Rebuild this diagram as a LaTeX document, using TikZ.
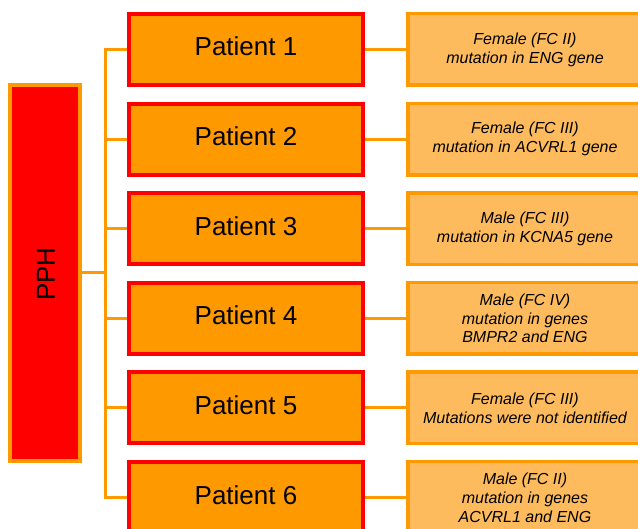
\documentclass[tikz,border=0pt]{standalone}
\usepackage{fontspec}
\setmainfont{Liberation Sans}
\definecolor{orng}{HTML}{FF9900}
\definecolor{lorng}{HTML}{FDBB5E}
\definecolor{rd}{HTML}{FF0000}
\begin{document}
\begin{tikzpicture}[x=1pt,y=-1pt,
  patbox/.style={draw=rd,fill=orng,line width=4pt,minimum width=234pt,minimum height=71pt,inner sep=0pt,text height=19pt,text depth=6pt,font=\fontsize{26}{30}\selectfont},
  infobox/.style={draw=orng,fill=lorng,line width=3.5pt,minimum width=234.5pt,minimum height=71.5pt,inner sep=0pt,align=center,font=\fontsize{16}{18.9}\selectfont\itshape},
  rootbox/.style={draw=orng,fill=rd,line width=4pt,minimum width=70pt,minimum height=376pt,inner sep=0pt},
  conn/.style={draw=orng,line width=3pt}]
\useasboundingbox (0,0) rectangle (638,529);
\node[rootbox] (pph) at (45,273) {};
\node[rotate=90,font=\fontsize{26}{30}\selectfont] (pphlabel) at (46,274) {PPH};
\coordinate (hub) at (105.5,273);
\foreach \i/\txt in {1/{Female (FC II)\\mutation in ENG gene},
                     2/{Female (FC III)\\mutation in ACVRL1 gene},
                     3/{Male (FC III)\\mutation in KCNA5 gene},
                     4/{Male (FC IV)\\mutation in genes\\BMPR2 and ENG},
                     5/{Female (FC III)\\Mutations were not identified},
                     6/{Male (FC II)\\mutation in genes\\ACVRL1 and ENG}} {
  \pgfmathsetmacro{\yy}{49.5+89.6*(\i-1)}
  \coordinate (t\i) at (105.5,\yy);
  \node[infobox] (info\i) at (525,\yy) {\txt};
  \draw[conn] (t\i) -- (129,\yy);
  \node[patbox] (p\i) at (246,\yy) {Patient \i};
  \draw[conn] (p\i.east) -- (info\i.west);
}
\draw[conn] (pph.east) -- (hub);
\draw[conn,line cap=rect] (t1) -- (t6);
\end{tikzpicture}
\end{document}
